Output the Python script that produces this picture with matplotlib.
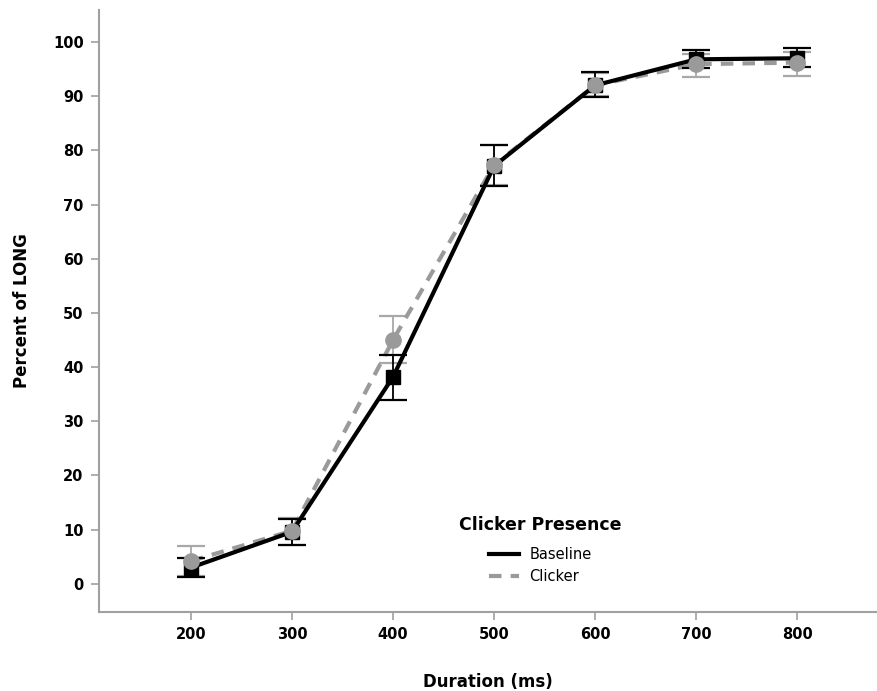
import matplotlib
matplotlib.use("Agg")
import matplotlib.pyplot as plt
from matplotlib.lines import Line2D

durations = [200, 300, 400, 500, 600, 700, 800]
baseline = [3.0, 9.6, 38.2, 77.1, 92.0, 96.8, 97.0]
baseline_lo = [1.2, 7.2, 34.0, 73.5, 89.8, 95.2, 95.4]
baseline_hi = [4.8, 12.0, 42.2, 81.0, 94.4, 98.6, 98.8]
clicker = [4.2, 9.8, 45.0, 77.3, 92.0, 95.9, 96.2]
clicker_lo = [1.5, 7.2, 40.8, 73.6, 90.0, 93.6, 93.8]
clicker_hi = [7.0, 12.2, 49.5, 81.0, 94.2, 97.8, 98.2]
yticks = [0, 10, 20, 30, 40, 50, 60, 70, 80, 90, 100]
xticks = [200, 300, 400, 500, 600, 700, 800]

fig = plt.figure(figsize=(8.77, 6.91), dpi=100)
ax = fig.add_axes([0.1129, 0.1143, 0.8871, 0.8712])

gray = "#9a9a9a"
cap_gray = "#a8a8a8"

def err(vals, lo, hi):
    return [[v - l for v, l in zip(vals, lo)], [h - v for v, h in zip(vals, hi)]]

# Clicker (gray dashed, circles)
ax.errorbar(durations, clicker, yerr=err(clicker, clicker_lo, clicker_hi), fmt="none",
            ecolor=cap_gray, elinewidth=1.3, capsize=10, capthick=1.6, zorder=2)
ax.plot(durations, clicker, color=gray, lw=3, ls=(0, (3, 2.2)), zorder=3)
# Baseline (black solid, squares)
ax.errorbar(durations, baseline, yerr=err(baseline, baseline_lo, baseline_hi), fmt="none",
            ecolor="black", elinewidth=1.3, capsize=10, capthick=1.6, zorder=4)
ax.plot(durations, baseline, color="black", lw=3, zorder=5)
ax.plot(durations, baseline, ls="none", marker="s", ms=10, color="black", zorder=6)
ax.plot(durations, clicker, ls="none", marker="o", ms=11, color=gray, zorder=7)

ax.set_xlim(109, 879)
ax.set_ylim(-5.2, 105.9)
ax.set_xticks(xticks)
ax.set_yticks(yticks)
ax.set_xticklabels([str(t) for t in xticks], fontsize=10.5, fontweight="bold")
ax.set_yticklabels([str(t) for t in yticks], fontsize=10.5, fontweight="bold")
for s in ["top", "right"]:
    ax.spines[s].set_visible(False)
for s in ["left", "bottom"]:
    ax.spines[s].set_color("#a0a0a0")
    ax.spines[s].set_linewidth(1.5)
ax.tick_params(axis="both", direction="out", length=6, width=1.2, color="#a0a0a0", pad=5)

ax.set_xlabel("Duration (ms)", fontsize=12, fontweight="bold", labelpad=22)
ax.set_ylabel("Percent of LONG", fontsize=12, fontweight="bold", labelpad=16)

handles = [Line2D([], [], color="black", lw=3),
           Line2D([], [], color=gray, lw=3, ls=(0, (3, 2.2)))]
leg = ax.legend(handles, ["Baseline", "Clicker"], title="Clicker Presence",
                loc="center", bbox_to_anchor=(0.567, 0.103), frameon=False,
                fontsize=10.5, handlelength=2.1, handletextpad=0.7,
                labelspacing=0.5, borderpad=0)
leg.get_title().set_fontweight("bold")
leg.get_title().set_fontsize(12.5)
leg._legend_box.sep = 9

fig.savefig("out.png", dpi=100)
